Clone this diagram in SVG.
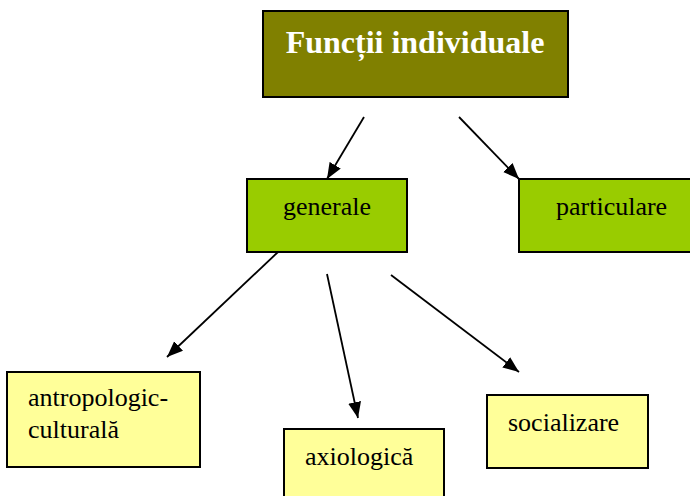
<svg xmlns="http://www.w3.org/2000/svg" width="690" height="496" viewBox="0 0 690 496">
<defs>
<style>
.box{stroke:#000;stroke-width:2}
.top{fill:#808000}
.green{fill:#99cc00}
.yellow{fill:#ffff99}
.edge{stroke:#000;stroke-width:1.8;fill:none;marker-end:url(#arr)}
</style>
<marker id="arr" markerUnits="userSpaceOnUse" markerWidth="17" markerHeight="14" refX="16" refY="6.5" orient="auto">
<path d="M0,0 L16,6.5 L0,13 z" fill="#000"/>
</marker>
</defs>
<g id="connectors">
<line class="edge" x1="364" y1="117" x2="327" y2="179"/>
<line class="edge" x1="459" y1="117" x2="519" y2="179"/>
<line class="edge" x1="278" y1="252" x2="167" y2="357"/>
<line class="edge" x1="327" y1="274" x2="358" y2="418"/>
<line class="edge" x1="391" y1="275" x2="519" y2="372"/>
</g>
<g id="functii">
<rect class="box top" x="263" y="11" width="305" height="86"/>
<text x="415" y="53" text-anchor="middle" font-family="Liberation Serif" font-size="32" font-weight="bold" fill="#fff">Funcții individuale</text>
</g>
<g id="generale">
<rect class="box green" x="247" y="179" width="160" height="73"/>
<text x="327" y="215" text-anchor="middle" font-family="Liberation Serif" font-size="26">generale</text>
</g>
<g id="particulare">
<rect class="box green" x="519" y="179" width="175" height="73"/>
<text x="556" y="215" font-family="Liberation Serif" font-size="26">particulare</text>
</g>
<g id="antropologic">
<rect class="box yellow" x="7" y="372" width="193" height="95"/>
<text x="28" y="406" font-family="Liberation Serif" font-size="26">antropologic-</text>
<text x="28" y="438" font-family="Liberation Serif" font-size="26">culturală</text>
</g>
<g id="axiologica">
<rect class="box yellow" x="284" y="429" width="160" height="75"/>
<text x="305" y="465" font-family="Liberation Serif" font-size="26">axiologică</text>
</g>
<g id="socializare">
<rect class="box yellow" x="487" y="395" width="161" height="73"/>
<text x="508" y="431" font-family="Liberation Serif" font-size="26">socializare</text>
</g>
</svg>
